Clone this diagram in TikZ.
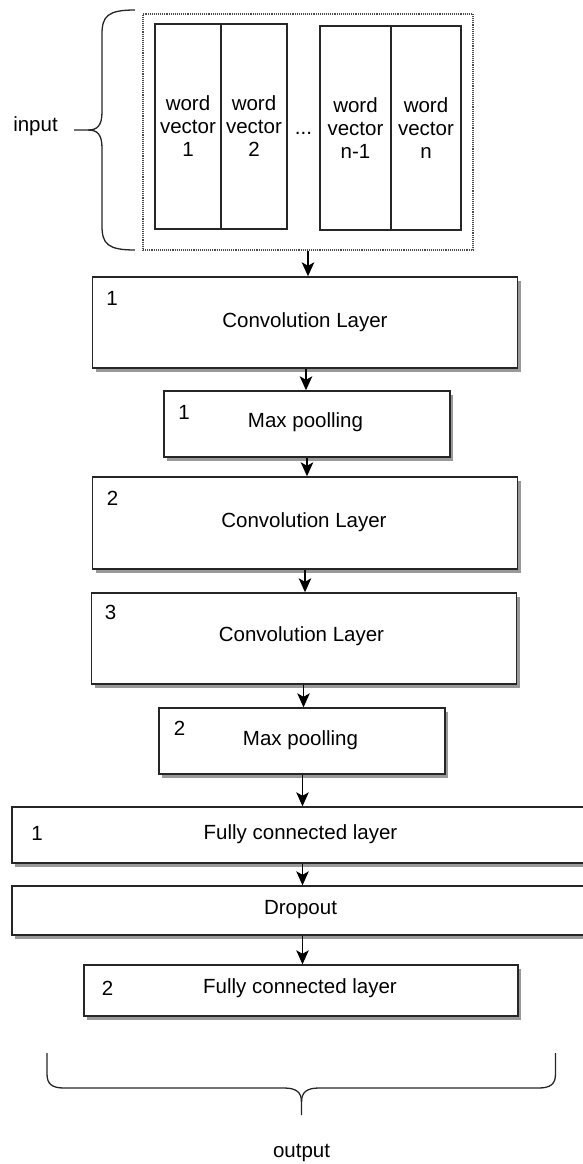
\documentclass[tikz,border=0pt]{standalone}
\usepackage{fontspec}
\setmainfont{Liberation Sans}
\usetikzlibrary{arrows.meta,shadows,calc}
\begin{document}
\begin{tikzpicture}[x=1pt,y=-1pt,
  every node/.style={font=\fontsize{20.5}{23}\selectfont},
  layer/.style={draw=black!85,line width=1.4pt,fill=white,rectangle,inner sep=0pt,
    drop shadow={shadow xshift=3pt,shadow yshift=-3.5pt,fill=black!40,opacity=1}},
  wvec/.style={draw=black!85,line width=1.3pt,rectangle,inner sep=0pt,align=center},
  arr/.style={draw=black,line width=1.4pt,-{Stealth[length=14pt,width=12.5pt,inset=3.5pt]}},
  brace/.style={draw=black!85,line width=1.3pt},
  lbl/.style={inner sep=0pt}]
\useasboundingbox (0,0) rectangle (582,1164);

% input block
\node[draw=black!70,densely dotted,line width=1.1pt,minimum width=330pt,minimum height=236pt,inner sep=0pt] (inp) at (308,132) {};
\node[wvec,minimum width=66pt,minimum height=205pt] (w1) at (188,126.5) {word\\vector\\1};
\node[wvec,minimum width=66pt,minimum height=205pt] (w2) at (254,126.5) {word\\vector\\2};
\node[wvec,minimum width=71pt,minimum height=204pt] (w3) at (355.5,128) {word\\vector\\n-1};
\node[wvec,minimum width=70pt,minimum height=204pt] (w4) at (426,128) {word\\vector\\n};
\node[lbl,anchor=base] (dots) at (303.5,134) {...};

% input brace
\node[lbl] (inlbl) at (35.5,126) {input};
\coordinate (bt) at (135,10);
\coordinate (bb) at (135,250);
\coordinate (btip) at (74,130);
\draw[brace] (bt) .. controls (108,10) and (102,16) .. (102,34) -- (102,112)
  .. controls (102,126) and (97,130) .. (88,130) -- (btip);
\draw[brace] (88,130) .. controls (97,130) and (102,134) .. (102,148) -- (102,226)
  .. controls (102,244) and (108,250) .. (bb);

% layers
\node[layer,minimum width=425pt,minimum height=91pt] (c1) at (305,322.5) {};
\node[lbl] at (c1.center) {Convolution Layer};
\node[lbl] at (112,298) {1};

\node[layer,minimum width=286pt,minimum height=66pt] (p1) at (307,424) {};
\node[lbl] at (305.5,422) {Max poolling};
\node[lbl] at (184,412) {1};

\node[layer,minimum width=425pt,minimum height=92pt] (c2) at (305,523) {};
\node[lbl] at (304,522) {Convolution Layer};
\node[lbl] at (112.5,498) {2};

\node[layer,minimum width=425pt,minimum height=91pt] (c3) at (304,638.5) {};
\node[lbl] at (301.5,636) {Convolution Layer};
\node[lbl] at (110.5,612) {3};

\node[layer,minimum width=286pt,minimum height=66pt] (p2) at (302,741) {};
\node[lbl] at (300.5,740) {Max poolling};
\node[lbl] at (179.5,728) {2};

\node[layer,minimum width=590pt,minimum height=56pt] (f1) at (307,835) {};
\node[lbl] at (300.5,834) {Fully connected layer};
\node[lbl] at (37,833) {1};

\node[layer,minimum width=590pt,minimum height=49pt] (dr) at (307,910.5) {};
\node[lbl] at (300.5,910) {Dropout};

\node[layer,minimum width=434pt,minimum height=51pt] (f2) at (301,990.5) {};
\node[lbl] at (300,988.5) {Fully connected layer};
\node[lbl] at (107.5,988.5) {2};

% arrows
\draw[arr] (inp.south) -- (inp.south |- c1.north);
\draw[arr] (c1.south -| 306,0) -- (p1.north -| 306,0);
\draw[arr] (p1.south) -- (p1.south |- c2.north);
\draw[arr] (c2.south) -- (c2.south |- c3.north);
\draw[arr] (c3.south -| 303.5,0) -- (p2.north -| 303.5,0);
\draw[arr] (p2.south -| 302.5,0) -- (f1.north -| 302.5,0);
\draw[arr] (f1.south -| 302.5,0) -- (dr.north -| 302.5,0);
\draw[arr] (dr.south -| 302.5,0) -- (f2.north -| 302.5,0);

% output brace
\coordinate (ol) at (47,1053);
\coordinate (or) at (555.5,1053);
\coordinate (otip) at (301.5,1115);
\draw[brace] (ol) -- (47,1074) .. controls (47,1084) and (52,1088) .. (64,1088) -- (284,1088)
  .. controls (296,1088) and (301.5,1092) .. (301.5,1102) -- (otip);
\draw[brace] (301.5,1102) .. controls (301.5,1092) and (307,1088) .. (319,1088) -- (538.5,1088)
  .. controls (550.5,1088) and (555.5,1084) .. (555.5,1074) -- (or);
\node[lbl] (outlbl) at (301.5,1153) {output};
\end{tikzpicture}
\end{document}
